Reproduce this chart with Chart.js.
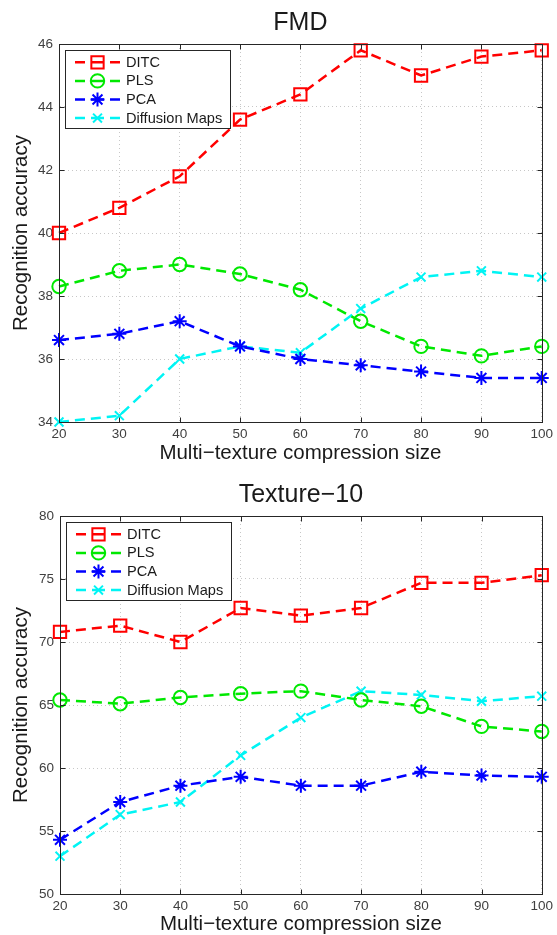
<!DOCTYPE html>
<html><head><meta charset="utf-8">
<script src="https://cdn.jsdelivr.net/npm/chart.js@4"></script>
<style>
html,body{margin:0;padding:0;background:#fff;}
#w{position:relative;width:557px;height:935px;overflow:hidden;}
canvas{position:absolute;left:0;}
</style></head><body>
<div id="w">
<canvas id="c1" width="557" height="465" style="top:0px"></canvas>
<canvas id="c2" width="557" height="463" style="top:472px"></canvas>
</div>
<script>
// ---- data ----
const xSizes = [20, 30, 40, 50, 60, 70, 80, 90, 100];
const seriesNames = ['DITC', 'PLS', 'PCA', 'Diffusion Maps'];

const fmdTitle = 'FMD';
const fmdDITC = [40.0, 40.8, 41.8, 43.6, 44.4, 45.8, 45.0, 45.6, 45.8];
const fmdPLS  = [38.3, 38.8, 39.0, 38.7, 38.2, 37.2, 36.4, 36.1, 36.4];
const fmdPCA  = [36.6, 36.8, 37.2, 36.4, 36.0, 35.8, 35.6, 35.4, 35.4];
const fmdDM   = [34.0, 34.2, 36.0, 36.4, 36.2, 37.6, 38.6, 38.8, 38.6];
const fmdYTicks = [34, 36, 38, 40, 42, 44, 46];

const texTitle = 'Texture\u221210';
const texDITC = [70.8, 71.3, 70.0, 72.7, 72.1, 72.7, 74.7, 74.7, 75.3];
const texPLS  = [65.4, 65.1, 65.6, 65.9, 66.1, 65.4, 64.9, 63.3, 62.9];
const texPCA  = [54.3, 57.3, 58.6, 59.3, 58.6, 58.6, 59.7, 59.4, 59.3];
const texDM   = [53.0, 56.3, 57.3, 61.0, 64.0, 66.1, 65.8, 65.3, 65.7];
const texYTicks = [50, 55, 60, 65, 70, 75, 80];

const xTitle = 'Multi\u2212texture compression size';
const yTitle = 'Recognition accuracy';

// ---- styling ----
const FONT = '"Liberation Sans", Arial, Helvetica, sans-serif';
Chart.defaults.font.family = FONT;
const styles = [
  {color: '#ff0000', pointStyle: 'rect', r: 8.7},
  {color: '#00e800', pointStyle: 'circle', r: 6.7},
  {color: '#0000ff', pointStyle: 'star', r: 7},
  {color: '#00f4f4', pointStyle: 'crossRot', r: 6.3}
];

function drawMarker(ctx, style, x, y, r, color, bw) {
  ctx.save();
  ctx.strokeStyle = color; ctx.lineWidth = bw; ctx.setLineDash([]);
  ctx.beginPath();
  if (style === 'rect') {
    const s = r * Math.SQRT1_2;
    ctx.rect(x - s, y - s, 2 * s, 2 * s);
  } else if (style === 'circle') {
    ctx.arc(x, y, r, 0, Math.PI * 2);
  } else {
    const angs = style === 'star' ? [0, 45, 90, 135] : [45, 135];
    angs.forEach(a => {
      const t = a * Math.PI / 180, dx = Math.cos(t) * r, dy = Math.sin(t) * r;
      ctx.moveTo(x - dx, y - dy); ctx.lineTo(x + dx, y + dy);
    });
  }
  ctx.stroke();
  ctx.restore();
}

const framePlugin = {
  id: 'frame',
  afterDraw(chart, args, opts) {
    const {ctx, chartArea: a, scales} = chart;
    ctx.save();
    // title centred over the plot area
    ctx.fillStyle = '#1a1a1a';
    ctx.font = '25px ' + FONT;
    ctx.textAlign = 'center'; ctx.textBaseline = 'alphabetic';
    ctx.fillText(opts.title, (a.left + a.right) / 2, 30);

    ctx.strokeStyle = '#262626'; ctx.lineWidth = 1; ctx.setLineDash([]);
    const L = Math.round(a.left) + 0.5, T = Math.round(a.top) + 0.5;
    const R = Math.round(a.right) + 0.5, B = Math.round(a.bottom) + 0.5;
    ctx.strokeRect(L, T, R - L, B - T);
    const tl = 5;
    ctx.beginPath();
    scales.x.ticks.forEach(t => {
      const px = Math.round(scales.x.getPixelForValue(t.value)) + 0.5;
      ctx.moveTo(px, B); ctx.lineTo(px, B - tl);
      ctx.moveTo(px, T); ctx.lineTo(px, T + tl);
    });
    scales.y.ticks.forEach(t => {
      const py = Math.round(scales.y.getPixelForValue(t.value)) + 0.5;
      ctx.moveTo(L, py); ctx.lineTo(L + tl, py);
      ctx.moveTo(R, py); ctx.lineTo(R - tl, py);
    });
    ctx.stroke();

    // legend
    const lx = Math.round(a.left) + 6, ly = Math.round(a.top) + 6, lw = 165, lh = 78;
    ctx.fillStyle = '#fff';
    ctx.fillRect(lx, ly, lw, lh);
    ctx.strokeStyle = '#262626'; ctx.lineWidth = 1;
    ctx.strokeRect(lx + 0.5, ly + 0.5, lw, lh);
    chart.data.datasets.forEach((ds, i) => {
      const y = ly + 12.3 + i * 18.6;
      ctx.strokeStyle = ds.borderColor; ctx.lineWidth = 2.5; ctx.setLineDash([]);
      ctx.beginPath();
      ctx.moveTo(lx + 10, y); ctx.lineTo(lx + 20, y);
      ctx.moveTo(lx + 26, y); ctx.lineTo(lx + 39, y);
      ctx.moveTo(lx + 45, y); ctx.lineTo(lx + 55, y);
      ctx.stroke();
      drawMarker(ctx, ds.pointStyle, lx + 32.5, y, ds.pointRadius, ds.borderColor, 2);
      ctx.fillStyle = '#1a1a1a';
      ctx.font = '14.6px ' + FONT;
      ctx.textBaseline = 'middle'; ctx.textAlign = 'left';
      ctx.fillText(ds.label, lx + 61, y + 0.5);
    });
    ctx.restore();
  }
};

function makeChart(id, title, series, yTicks, leftW, rightPad, xAxisH, xTitlePadB) {
  const datasets = series.map((vals, i) => ({
    label: seriesNames[i],
    data: xSizes.map((x, j) => ({x: x, y: vals[j]})),
    borderColor: styles[i].color,
    backgroundColor: 'rgba(0,0,0,0)',
    borderWidth: 2.5,
    borderDash: [10, 6],
    pointStyle: styles[i].pointStyle,
    pointRadius: styles[i].r,
    pointBorderWidth: 2,
    pointBorderColor: styles[i].color,
    pointBackgroundColor: 'rgba(0,0,0,0)',
    fill: false,
    tension: 0,
    clip: false
  }));
  return new Chart(document.getElementById(id), {
    type: 'line',
    data: {datasets},
    options: {
      responsive: false,
      animation: false,
      devicePixelRatio: 1,
      layout: {padding: {left: 0, right: rightPad, top: 44, bottom: 0}},
      plugins: {
        legend: {display: false},
        tooltip: {enabled: false},
        title: {display: false},
        frame: {title: title}
      },
      scales: {
        x: {
          type: 'linear', min: xSizes[0], max: xSizes[xSizes.length - 1],
          ticks: {stepSize: 10, padding: 4, color: '#404040', font: {size: 13.5}, maxRotation: 0},
          grid: {color: 'rgba(0,0,0,0.22)', drawTicks: false, lineWidth: 1},
          border: {display: true, color: '#262626', dash: [1, 3]},
          title: {display: true, text: xTitle, color: '#1a1a1a', font: {size: 20.5, lineHeight: 1},
                  padding: {top: 0, bottom: xTitlePadB}},
          afterFit(s) { s.height = xAxisH; }
        },
        y: {
          type: 'linear', min: yTicks[0], max: yTicks[yTicks.length - 1],
          ticks: {stepSize: yTicks[1] - yTicks[0], padding: 6, color: '#404040', font: {size: 13.5}},
          grid: {color: 'rgba(0,0,0,0.22)', drawTicks: false, lineWidth: 1},
          border: {display: true, color: '#262626', dash: [1, 3]},
          title: {display: true, text: yTitle, color: '#1a1a1a', font: {size: 20.5, lineHeight: 1},
                  padding: {top: 11.5, bottom: 0}},
          afterFit(s) { s.width = leftW; }
        }
      }
    },
    plugins: [framePlugin]
  });
}

makeChart('c1', fmdTitle, [fmdDITC, fmdPLS, fmdPCA, fmdDM], fmdYTicks, 59, 13.5, 43, 1);
makeChart('c2', texTitle, [texDITC, texPLS, texPCA, texDM], texYTicks, 60, 13, 41, 0);
</script>
</body></html>
